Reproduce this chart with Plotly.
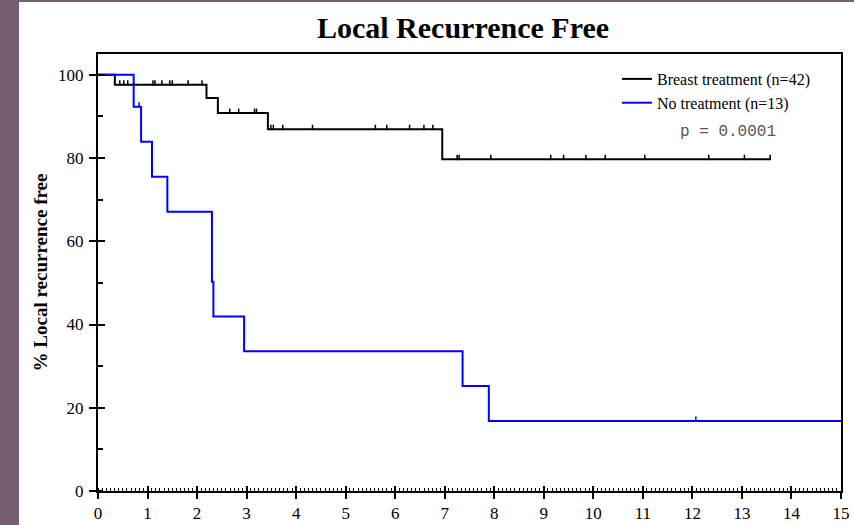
import plotly.graph_objects as go

# ---------------- data ----------------
breast_step_x = [0, 0.34, 2.19, 2.42, 3.43, 6.95, 13.57]
breast_step_y = [100, 97.6, 94.4, 90.8, 86.9, 79.7, 79.7]
breast_cens_x = [0.44, 0.52, 0.60, 1.11, 1.15, 1.29, 1.45, 1.50, 1.82, 2.10,
                 2.66, 2.84, 3.16, 3.20,
                 3.49, 3.54, 3.73, 4.33, 5.60, 5.83, 6.29, 6.58, 6.76,
                 7.25, 7.29, 7.93, 9.14, 9.40, 9.85, 10.24, 11.04, 12.33, 13.05, 13.57]
breast_cens_y = [97.6] * 10 + [90.8] * 4 + [86.9] * 9 + [79.7] * 11

none_step_x = [0, 0.72, 0.87, 1.09, 1.40, 2.30, 2.33, 2.95, 7.36, 7.89, 15]
none_step_y = [100, 92.3, 83.9, 75.5, 67.1, 50.3, 41.9, 33.6, 25.2, 16.8, 16.8]
none_cens_x = [0.83, 12.07]
none_cens_y = [92.3, 16.8]

x_ticks = list(range(0, 16))
y_ticks = [0, 20, 40, 60, 80, 100]

series_names = ["Breast treatment (n=42)", "No treatment (n=13)"]
p_text = "p = 0.0001"
title_text = "Local Recurrence Free"
y_title = "% Local recurrence free"

# ---------------- styles ----------------
BLACK = "#000000"
BLUE = "#0000ff"
PURPLE = "#765f6f"
SERIF = "Liberation Serif"
MONO = "Liberation Mono"
TICK_H = 1.1

fig = go.Figure()

def censor_trace(xs, ys, color):
    return go.Scatter(
        x=xs, y=ys, mode="markers",
        marker=dict(size=2, color=color),
        error_y=dict(type="data", symmetric=False,
                     array=[TICK_H] * len(xs), arrayminus=[0] * len(xs),
                     width=0, thickness=1.5, color=color),
        showlegend=False, hoverinfo="skip")

fig.add_trace(go.Scatter(x=breast_step_x, y=breast_step_y, mode="lines",
                         line=dict(color=BLACK, width=2, shape="hv"),
                         name=series_names[0]))
fig.add_trace(censor_trace(breast_cens_x, breast_cens_y, BLACK))
fig.add_trace(go.Scatter(x=none_step_x, y=none_step_y, mode="lines",
                         line=dict(color=BLUE, width=2, shape="hv"),
                         name=series_names[1]))
fig.add_trace(censor_trace(none_cens_x, none_cens_y, BLUE))
# invisible trace to activate the overlay axes (inside half of the major ticks)
fig.add_trace(go.Scatter(x=[None], y=[None], xaxis="x2", yaxis="y2",
                         showlegend=False, hoverinfo="skip"))

W, H = 854, 525
L, R, T, B = 98, 13, 54, 34
pw, ph = W - L - R, H - T - B

def px_x(p):
    return (p - L) / pw

def px_y(p):
    return (H - B - p) / ph

fig.update_layout(
    width=W, height=H,
    margin=dict(l=L, r=R, t=T, b=B, pad=0, autoexpand=False),
    paper_bgcolor=PURPLE,
    plot_bgcolor="white",
    title=dict(text=title_text, x=px_x(463), xref="paper", xanchor="center",
               y=1 - 27 / H, yref="container", yanchor="middle",
               font=dict(family=SERIF, size=30, color=BLACK, weight="bold")),
    xaxis=dict(range=[0, 15], tickvals=x_ticks, ticks="outside", ticklen=6,
               tickwidth=1.5, tickcolor=BLACK, showline=True, linewidth=2,
               linecolor=BLACK, mirror=True, showgrid=False, zeroline=False,
               automargin=False, ticklabelstandoff=0,
               tickfont=dict(family=SERIF, size=17, color=BLACK),
               minor=dict(dtick=1 / 12, tick0=0, ticks="inside", ticklen=3,
                          tickwidth=1, tickcolor=BLACK, showgrid=False)),
    yaxis=dict(range=[0, 105], tickvals=y_ticks, ticks="outside", ticklen=7,
               tickwidth=1.5, tickcolor=BLACK, showline=True, linewidth=2,
               linecolor=BLACK, mirror=True, showgrid=False, zeroline=False,
               automargin=False, ticklabelstandoff=2,
               tickfont=dict(family=SERIF, size=17, color=BLACK),
               title=dict(text=y_title, standoff=5,
                          font=dict(family=SERIF, size=19, color=BLACK, weight="bold")),
               minor=dict(dtick=10, tick0=0, ticks="inside", ticklen=5,
                          tickwidth=1.5, tickcolor=BLACK, showgrid=False)),
    xaxis2=dict(overlaying="x", anchor="y2", range=[0, 15], tickvals=x_ticks,
                ticks="inside", ticklen=5, tickwidth=1.5, tickcolor=BLACK,
                automargin=False,
                showticklabels=False, showline=False, showgrid=False, zeroline=False),
    yaxis2=dict(overlaying="y", anchor="x2", range=[0, 105], tickvals=y_ticks,
                ticks="inside", ticklen=7, tickwidth=1.5, tickcolor=BLACK,
                automargin=False,
                showticklabels=False, showline=False, showgrid=False, zeroline=False),
    legend=dict(x=px_x(617), y=px_y(62), xanchor="left", yanchor="top",
                bgcolor="rgba(0,0,0,0)", borderwidth=0,
                font=dict(family=SERIF, size=16, color=BLACK)),
    shapes=[dict(type="rect", xref="paper", yref="paper", layer="below",
                 x0=px_x(19), x1=px_x(W + 2), y0=px_y(H + 2), y1=px_y(2),
                 fillcolor="white", line=dict(width=0))],
    annotations=[dict(text=p_text, xref="paper", yref="paper",
                      x=px_x(728), y=px_y(132), xanchor="center", yanchor="middle",
                      showarrow=False,
                      font=dict(family=MONO, size=16, color="#555555"))],
)

fig.write_html("out.html", config={"displayModeBar": False},
               post_script="document.body.style.margin='0px';")
